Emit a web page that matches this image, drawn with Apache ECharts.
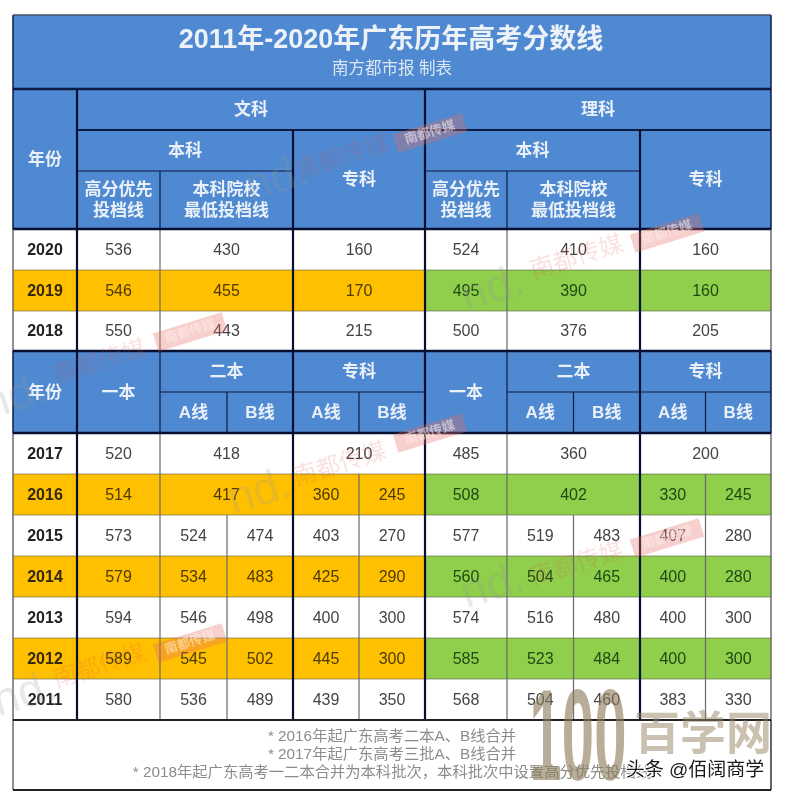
<!DOCTYPE html>
<html>
<head>
<meta charset="utf-8">
<style>
html, body { margin: 0; padding: 0; background: #fff; }
#chart { width: 785px; height: 800px; }
</style>
<script src="https://cdn.jsdelivr.net/npm/echarts@6/dist/echarts.min.js"></script>
</head>
<body>
<div id="chart"></div>
<script>
// 标题
var titleText = '2011年-2020年广东历年高考分数线';
var subTitleText = '南方都市报 制表';

// 2018-2020 (本科批次)
var yearsNew = [2020, 2019, 2018];
var wenYouxian = [536, 546, 550];
var wenBenke = [430, 455, 443];
var wenZhuanke = [160, 170, 215];
var liYouxian = [524, 495, 500];
var liBenke = [410, 390, 376];
var liZhuanke = [160, 160, 205];

// 2011-2017 (null = 该列与左边合并)
var yearsOld = [2017, 2016, 2015, 2014, 2013, 2012, 2011];
var wenYiben = [520, 514, 573, 579, 594, 589, 580];
var wenErA = [418, 417, 524, 534, 546, 545, 536];
var wenErB = [null, null, 474, 483, 498, 502, 489];
var wenZhuanA = [210, 360, 403, 425, 400, 445, 439];
var wenZhuanB = [null, 245, 270, 290, 300, 300, 350];
var liYiben = [485, 508, 577, 560, 574, 585, 568];
var liErA = [360, 402, 519, 504, 516, 523, 504];
var liErB = [null, null, 483, 465, 480, 484, 460];
var liZhuanA = [200, 330, 407, 400, 400, 400, 383];
var liZhuanB = [null, 245, 280, 280, 300, 300, 330];

var footNotes = [
    '* 2016年起广东高考二本A、B线合并',
    '* 2017年起广东高考三批A、B线合并',
    '* 2018年起广东高考一二本合并为本科批次，本科批次中设置高分优先投档线'
];

// 表格网格线 (轴上的刻度位置)
var colX = [13, 77, 160, 227, 293, 359, 425, 507, 573.5, 640, 705.5, 771];
var rowY = [15, 89, 130, 171, 229, 270, 311, 351, 392, 433, 474, 515, 556, 597, 638, 679, 720, 790];

var BLUE = '#4f89d1', ORANGE = '#ffc000', GREEN = '#8fcf4b', WHITE = '#ffffff';
var HEAD_TEXT = '#e9f0f8', DARK = '#0b1b44', GRAY = '#6a6a6a';
var FONT = '"Liberation Sans", "Noto Sans CJK SC", sans-serif';

function numColor(fill) {
    if (fill === ORANGE) return '#4d3a05';
    if (fill === GREEN) return '#1f4a14';
    return '#444444';
}

var cells = [];
function addCell(c0, c1, r0, r1, fill, label, size, weight, color) {
    cells.push({ c0: c0, c1: c1, r0: r0, r1: r1, fill: fill, label: label, size: size, weight: weight, color: color });
}
function head(c0, c1, r0, r1, label) {
    addCell(c0, c1, r0, r1, BLUE, label, 17, 'bold', HEAD_TEXT);
}
function num(c0, c1, r, fill, v) {
    addCell(c0, c1, r, r + 1, fill, String(v), 16, 'normal', numColor(fill));
}
function yearCell(r, fill, y) {
    addCell(0, 1, r, r + 1, fill, String(y), 16, 'bold', fill === WHITE ? '#222222' : '#33290a');
}

// 表头
addCell(0, 11, 0, 1, BLUE, '', 16, 'normal', HEAD_TEXT);
head(0, 1, 1, 4, '年份');
head(1, 6, 1, 2, '文科');
head(6, 11, 1, 2, '理科');
head(1, 4, 2, 3, '本科');
head(6, 9, 2, 3, '本科');
head(4, 6, 2, 4, '专科');
head(9, 11, 2, 4, '专科');
head(1, 2, 3, 4, '高分优先\n投档线');
head(2, 4, 3, 4, '本科院校\n最低投档线');
head(6, 7, 3, 4, '高分优先\n投档线');
head(7, 9, 3, 4, '本科院校\n最低投档线');

function rowFills(i) {
    // 隔行上色
    return i % 2 === 1 ? [ORANGE, GREEN] : [WHITE, WHITE];
}

yearsNew.forEach(function (y, i) {
    var r = 4 + i, f = rowFills(i);
    yearCell(r, f[0], y);
    num(1, 2, r, f[0], wenYouxian[i]);
    num(2, 4, r, f[0], wenBenke[i]);
    num(4, 6, r, f[0], wenZhuanke[i]);
    num(6, 7, r, f[1], liYouxian[i]);
    num(7, 9, r, f[1], liBenke[i]);
    num(9, 11, r, f[1], liZhuanke[i]);
});

head(0, 1, 7, 9, '年份');
head(1, 2, 7, 9, '一本');
head(2, 4, 7, 8, '二本');
head(4, 6, 7, 8, '专科');
head(2, 3, 8, 9, 'A线');
head(3, 4, 8, 9, 'B线');
head(4, 5, 8, 9, 'A线');
head(5, 6, 8, 9, 'B线');
head(6, 7, 7, 9, '一本');
head(7, 9, 7, 8, '二本');
head(9, 11, 7, 8, '专科');
head(7, 8, 8, 9, 'A线');
head(8, 9, 8, 9, 'B线');
head(9, 10, 8, 9, 'A线');
head(10, 11, 8, 9, 'B线');

function pair(c, r, fill, a, b) {
    if (b === null) {
        num(c, c + 2, r, fill, a);
    } else {
        num(c, c + 1, r, fill, a);
        num(c + 1, c + 2, r, fill, b);
    }
}
yearsOld.forEach(function (y, i) {
    var r = 9 + i, f = rowFills(i);
    yearCell(r, f[0], y);
    num(1, 2, r, f[0], wenYiben[i]);
    pair(2, r, f[0], wenErA[i], wenErB[i]);
    pair(4, r, f[0], wenZhuanA[i], wenZhuanB[i]);
    num(6, 7, r, f[1], liYiben[i]);
    pair(7, r, f[1], liErA[i], liErB[i]);
    pair(9, r, f[1], liZhuanA[i], liZhuanB[i]);
});
addCell(0, 11, 16, 17, WHITE, '', 14, 'normal', '#888');

// 线: [x0, y0, x1, y1, 宽度, 颜色]
var lines = [];
function hLine(c0, c1, r, w, color) { lines.push([colX[c0], rowY[r], colX[c1], rowY[r], w, color]); }
function vLine(c, r0, r1, w, color) { lines.push([colX[c], rowY[r0], colX[c], rowY[r1], w, color]); }

for (var r = 5; r < 16; r++) {
    if (r !== 7 && r !== 8 && r !== 9) hLine(0, 11, r, 1, 'rgba(80,80,60,0.55)');
}
vLine(0, 4, 7, 1.5, GRAY);
vLine(0, 9, 17, 1.5, GRAY);
vLine(11, 4, 7, 1.5, GRAY);
vLine(11, 9, 16, 1.5, GRAY);
vLine(0, 0, 4, 1.5, DARK);
vLine(11, 0, 4, 1.5, DARK);
vLine(0, 7, 9, 1.5, DARK);
vLine(11, 7, 9, 1.5, DARK);
vLine(11, 16, 17, 1.5, '#333');
[2, 7].forEach(function (c) {
    vLine(c, 3, 4, 1.2, DARK);
    vLine(c, 4, 7, 1.2, GRAY);
    vLine(c, 7, 9, 1.2, DARK);
    vLine(c, 9, 16, 1.2, GRAY);
});
[3, 8].forEach(function (c) {
    vLine(c, 8, 9, 1.2, DARK);
    vLine(c, 11, 16, 1.2, GRAY);
});
[5, 10].forEach(function (c) {
    vLine(c, 8, 9, 1.2, DARK);
    vLine(c, 10, 16, 1.2, GRAY);
});
hLine(1, 4, 3, 1.2, DARK);
hLine(6, 9, 3, 1.2, DARK);
hLine(2, 6, 8, 1.2, DARK);
hLine(7, 11, 8, 1.2, DARK);
hLine(1, 11, 2, 2, DARK);
vLine(1, 1, 16, 2.2, '#071030');
vLine(4, 2, 16, 2.2, '#071030');
vLine(6, 1, 16, 2.2, '#071030');
vLine(9, 2, 16, 2.2, '#071030');
hLine(0, 11, 0, 1.5, '#44506a');
hLine(0, 11, 1, 2.5, DARK);
hLine(0, 11, 4, 2.5, '#071030');
hLine(0, 11, 7, 2.5, '#071030');
hLine(0, 11, 9, 2.5, '#071030');
hLine(0, 11, 16, 2, '#222');
hLine(0, 11, 17, 2, '#222');

// 水印
var stampText = '南都传媒';
var stampMarks = [[430, 133], [667, 233], [190, 332], [430, 433], [667, 538], [190, 643]];
var wordMarks = [[343, 158], [577, 258], [100, 363], [340, 465], [577, 565], [100, 667]];
var ndMarks = [[277, 180], [493, 290], [15, 398], [260, 493], [493, 587], [25, 695]];
var MARK_ROT = 0.3;

var allText = [];
cells.forEach(function (c) {
    if (c.label) allText.push({ x: (colX[c.c0] + colX[c.c1]) / 2, y: (rowY[c.r0] + rowY[c.r1]) / 2 + 1, c: c });
});

function rectItem(params, api) {
    var c = cells[params.dataIndex];
    var p0 = api.coord([colX[c.c0], rowY[c.r0]]);
    var p1 = api.coord([colX[c.c1], rowY[c.r1]]);
    return {
        type: 'rect',
        shape: { x: p0[0], y: p0[1], width: p1[0] - p0[0], height: p1[1] - p0[1] },
        style: { fill: c.fill }
    };
}
function lineItem(params, api) {
    var l = lines[params.dataIndex];
    var p0 = api.coord([l[0], l[1]]);
    var p1 = api.coord([l[2], l[3]]);
    return {
        type: 'line',
        shape: { x1: p0[0], y1: p0[1], x2: p1[0], y2: p1[1] },
        style: { stroke: l[5], lineWidth: l[4] }
    };
}
function textItem(params, api) {
    var t = allText[params.dataIndex];
    var p = api.coord([t.x, t.y]);
    return {
        type: 'text',
        x: p[0], y: p[1],
        style: {
            text: t.c.label, fill: t.c.color, align: 'center', verticalAlign: 'middle',
            lineHeight: 21,
            font: t.c.weight + ' ' + t.c.size + 'px ' + FONT
        }
    };
}
function plainText(x, y, text, size, weight, color, api, extra) {
    var p = api.coord([x, y]);
    var el = {
        type: 'text', x: p[0], y: p[1],
        style: { text: text, fill: color, align: 'center', verticalAlign: 'middle', font: weight + ' ' + size + 'px ' + FONT }
    };
    if (extra) {
        for (var k in extra) el[k] = extra[k];
    }
    return el;
}
// 表题和脚注
var notesY = [737, 755, 773];
function titleItems(params, api) {
    var kids = [
        plainText(391, 41, titleText, 27, 'bold', '#edf2f9', api),
        plainText(392, 69, subTitleText, 16.5, 'normal', '#dce6f3', api)
    ];
    footNotes.forEach(function (s, i) {
        kids.push(plainText(392, notesY[i], s, 15.3, 'normal', '#8c8c8c', api));
    });
    return { type: 'group', children: kids };
}
// 水印层
function markItems(params, api) {
    var kids = [];
    stampMarks.forEach(function (m) {
        var p = api.coord(m);
        kids.push({
            type: 'text', x: p[0], y: p[1], rotation: MARK_ROT,
            style: {
                text: stampText, fill: 'rgba(255,240,235,0.55)', backgroundColor: 'rgba(230,110,100,0.33)',
                align: 'center', verticalAlign: 'middle', padding: [3, 10], font: 'bold 13px ' + FONT
            }
        });
    });
    wordMarks.forEach(function (m) {
        kids.push(plainText(m[0], m[1], stampText, 24, 'normal', 'rgba(225,80,70,0.17)', api, { rotation: MARK_ROT }));
    });
    ndMarks.forEach(function (m) {
        kids.push(plainText(m[0], m[1], 'nd.', 46, 'normal', 'rgba(150,150,150,0.22)', api, { rotation: MARK_ROT }));
    });
    // 右下角网站水印
    kids.push(plainText(578, 744, '100', 100, 'bold', 'rgba(140,122,90,0.62)', api, { scaleX: 0.58, scaleY: 1.3 }));
    kids.push(plainText(703, 736, '百学网', 46, 'bold', 'rgba(150,132,100,0.5)', api));
    var sign = plainText(695, 771, '头条 @佰阔商学', 19, 'normal', '#1a1a1a', api);
    sign.style.stroke = '#ffffff';
    sign.style.lineWidth = 2;
    kids.push(sign);
    return { type: 'group', children: kids };
}

var chart = echarts.init(document.getElementById('chart'));
var option = {
    animation: false,
    backgroundColor: '#fff',
    grid: { left: 0, right: 0, top: 0, bottom: 0 },
    xAxis: { type: 'value', min: 0, max: 785, show: false },
    yAxis: { type: 'value', min: 0, max: 800, inverse: true, show: false },
    series: [
        { type: 'custom', silent: true, clip: false, renderItem: rectItem, data: cells.map(function (c, i) { return [i]; }), encode: { x: 0, y: 0 } },
        { type: 'custom', silent: true, clip: false, renderItem: textItem, data: allText.map(function (c, i) { return [i]; }), encode: { x: 0, y: 0 }, z: 3 },
        { type: 'custom', silent: true, clip: false, renderItem: titleItems, data: [[0]], encode: { x: 0, y: 0 }, z: 3 },
        { type: 'custom', silent: true, clip: false, renderItem: lineItem, data: lines.map(function (c, i) { return [i]; }), encode: { x: 0, y: 0 }, z: 4 },
        { type: 'custom', silent: true, clip: false, renderItem: markItems, data: [[0]], encode: { x: 0, y: 0 }, z: 5 }
    ]
};
chart.setOption(option);
</script>
</body>
</html>
